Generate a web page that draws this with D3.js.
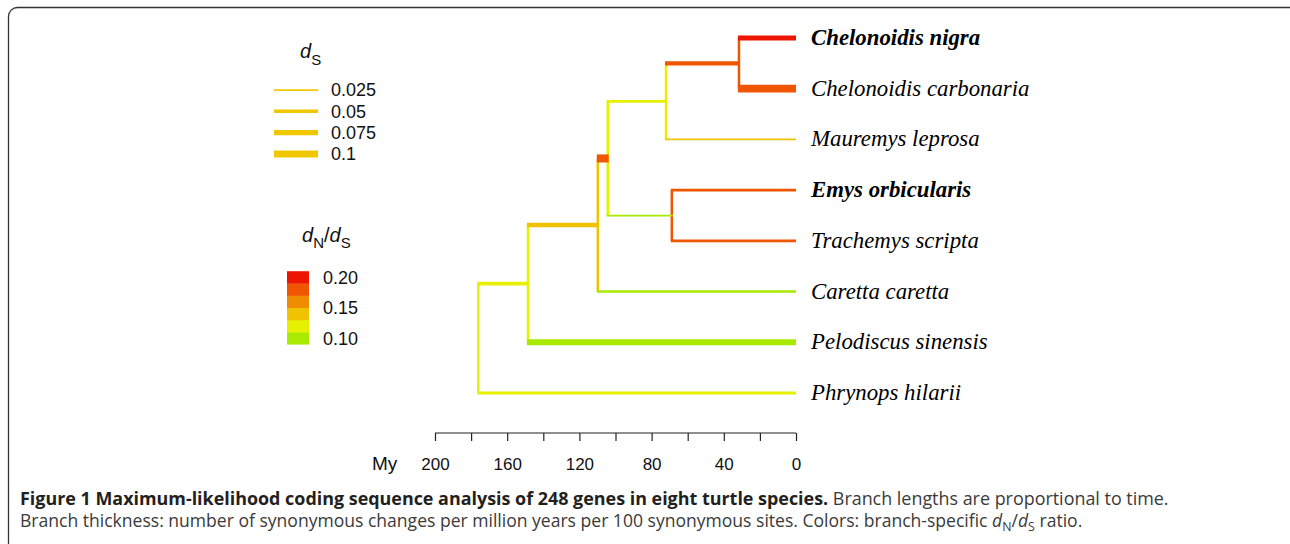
<!DOCTYPE html>
<html>
<head>
<meta charset="utf-8">
<script src="https://cdn.jsdelivr.net/npm/d3@7"></script>
<style>
  body { margin: 0; background: #fff; }
  svg { display: block; }
</style>
</head>
<body>
<svg id="chart" width="1290" height="544"></svg>
<script>
// tips, top to bottom
const tipNames = ['Chelonoidis nigra', 'Chelonoidis carbonaria', 'Mauremys leprosa', 'Emys orbicularis',
  'Trachemys scripta', 'Caretta caretta', 'Pelodiscus sinensis', 'Phrynops hilarii'];
const tipBold = ['Chelonoidis nigra', 'Emys orbicularis'];

// tree: node, parent, age (My)
const nodeNames = ['root', 'cryptodira', 'durocryptodira', 'testudinoidea', 'testuguria', 'emydidae', 'chelonoidis', ...tipNames];
const nodeParents = ['', 'root', 'cryptodira', 'durocryptodira', 'testudinoidea', 'testudinoidea', 'testuguria',
  'chelonoidis', 'chelonoidis', 'testuguria', 'emydidae', 'emydidae', 'durocryptodira', 'cryptodira', 'root'];
const nodeAges = [176, 148.5, 109.8, 104.3, 72, 68.8, 31.6, 0, 0, 0, 0, 0, 0, 0, 0];

// branch leading to each node: dS and dN/dS
const branchDs = [0, 0.055, 0.065, 0.115, 0.042, 0.025, 0.058, 0.068, 0.11, 0.025, 0.042, 0.042, 0.035, 0.085, 0.042];
const branchOmega = [0.12, 0.12, 0.14, 0.18, 0.12, 0.10, 0.18, 0.20, 0.18, 0.14, 0.18, 0.18, 0.10, 0.10, 0.12];
// colour of the vertical connector at each internal node
const vertOmega = [0.12, 0.12, 0.14, 0.12, 0.12, 0.18, 0.18];

// legends
const dsLegend = [0.025, 0.05, 0.075, 0.1];
const omegaBins = [0.10, 0.12, 0.14, 0.16, 0.18, 0.20];
const omegaLabels = [0.20, 0.15, 0.10];
const omegaColors = ['#a8ea00', '#e6f000', '#f0c200', '#f08c00', '#f05500', '#ee1500'];
const ageTicks = d3.range(0, 201, 20);

const svg = d3.select('#chart');
const sans = '"Liberation Sans", Arial, sans-serif';

const x = d3.scaleLinear().domain([200, 0]).range([435, 796]);
const yTip = d3.scalePoint().domain(tipNames).range([38, 393]);
const width = d3.scaleLinear().domain([0, 0.1]).range([0, 7]);
const color = d3.scaleThreshold().domain([0.11, 0.13, 0.15, 0.17, 0.19]).range(omegaColors);

// frame
svg.append('rect')
  .attr('x', 8.5).attr('y', 7.5)
  .attr('width', 1300).attr('height', 545)
  .attr('rx', 9)
  .attr('fill', 'none')
  .attr('stroke', '#333')
  .attr('stroke-width', 1.3);

// build hierarchy
const rows = nodeNames.map((n, i) => ({
  id: n, parent: nodeParents[i] || null, age: nodeAges[i],
  ds: branchDs[i], omega: branchOmega[i], vert: i < vertOmega.length ? vertOmega[i] : null
}));
const root = d3.stratify().id(d => d.id).parentId(d => d.parent)(rows);

root.eachAfter(n => {
  n.py = n.children ? d3.mean(n.children, c => c.py) : yTip(n.id);
});

const tree = svg.append('g').attr('class', 'tree');

// vertical connectors
tree.selectAll('.vert')
  .data(root.descendants().filter(n => n.children))
  .join('line')
  .attr('class', 'vert')
  .attr('x1', d => x(d.data.age)).attr('x2', d => x(d.data.age))
  .attr('y1', d => d.children[0].py)
  .attr('y2', d => d.children[d.children.length - 1].py)
  .attr('stroke', d => color(d.data.vert))
  .attr('stroke-width', 2.5);

// horizontal branches
tree.selectAll('.branch')
  .data(root.descendants().filter(n => n.parent))
  .join('line')
  .attr('class', 'branch')
  .attr('x1', d => x(d.parent.data.age) - 1)
  .attr('x2', d => x(d.data.age) + (d.children ? 1 : 0))
  .attr('y1', d => d.py).attr('y2', d => d.py)
  .attr('stroke', d => color(d.data.omega))
  .attr('stroke-width', d => width(d.data.ds));

// tip labels
svg.append('g')
  .selectAll('text')
  .data(tipNames)
  .join('text')
  .attr('x', 811)
  .attr('y', d => yTip(d))
  .attr('dy', '0.31em')
  .attr('font-family', '"Liberation Serif", "Times New Roman", serif')
  .attr('font-style', 'italic')
  .attr('font-weight', d => tipBold.includes(d) ? 'bold' : 'normal')
  .attr('font-size', 22.8)
  .attr('fill', '#000')
  .text(d => d);

// time axis
const axis = svg.append('g')
  .attr('transform', 'translate(0,433)')
  .call(d3.axisBottom(x)
    .tickValues(ageTicks)
    .tickSize(8)
    .tickSizeOuter(0)
    .tickPadding(17)
    .tickFormat(d => d % 40 === 0 ? d : ''));
axis.selectAll('path, line').attr('stroke', '#222').attr('stroke-width', 1.2);
axis.selectAll('text')
  .attr('font-family', sans)
  .attr('font-size', 17)
  .attr('fill', '#111');
axis.select('.domain').attr('d', `M${x(200)},0H${x(0)}`);

svg.append('text')
  .attr('x', 372).attr('y', 470)
  .attr('font-family', sans)
  .attr('font-size', 19)
  .attr('fill', '#111')
  .text('My');

// dS legend
const dsTitle = svg.append('text')
  .attr('x', 300).attr('y', 58)
  .attr('font-family', sans).attr('fill', '#111');
dsTitle.append('tspan').attr('font-style', 'italic').attr('font-size', 20).text('d');
dsTitle.append('tspan').attr('font-size', 15).attr('dy', 7).text('S');

const yDs = d3.scalePoint().domain(dsLegend).range([90, 154]);
const dsG = svg.append('g');
dsG.selectAll('line')
  .data(dsLegend)
  .join('line')
  .attr('x1', 274).attr('x2', 318)
  .attr('y1', d => yDs(d)).attr('y2', d => yDs(d))
  .attr('stroke', '#f0c800')
  .attr('stroke-width', d => width(d));
dsG.selectAll('text')
  .data(dsLegend)
  .join('text')
  .attr('x', 331).attr('y', d => yDs(d))
  .attr('dy', '0.36em')
  .attr('font-family', sans).attr('font-size', 18).attr('fill', '#111')
  .text(d => d);

// dN/dS legend
const omTitle = svg.append('text')
  .attr('x', 302).attr('y', 242)
  .attr('font-family', sans).attr('fill', '#111');
omTitle.append('tspan').attr('font-style', 'italic').attr('font-size', 20).text('d');
omTitle.append('tspan').attr('font-size', 15).attr('dy', 6).text('N');
omTitle.append('tspan').attr('font-size', 20).attr('dy', -6).text('/');
omTitle.append('tspan').attr('font-style', 'italic').attr('font-size', 20).text('d');
omTitle.append('tspan').attr('font-size', 15).attr('dy', 6).text('S');

const yOm = d3.scaleLinear().domain([0.10, 0.20]).range([338.2, 277.3]);
const boxH = yOm(0.10) - yOm(0.12);
const omG = svg.append('g');
omG.selectAll('rect')
  .data(omegaBins)
  .join('rect')
  .attr('x', 287).attr('width', 22)
  .attr('y', d => yOm(d) - boxH / 2)
  .attr('height', boxH + 0.3)
  .attr('fill', d => color(d));
omG.selectAll('text')
  .data(omegaLabels)
  .join('text')
  .attr('x', 323).attr('y', d => yOm(d))
  .attr('dy', '0.36em')
  .attr('font-family', sans).attr('font-size', 18).attr('fill', '#111')
  .text(d => d.toFixed(2));

// caption
const capFont = '"Open Sans", "Noto Sans", sans-serif';
const cap1 = svg.append('text')
  .attr('x', 20).attr('y', 505)
  .attr('font-family', capFont).attr('font-size', 17).attr('fill', '#3a3a3a');
cap1.append('tspan').attr('font-weight', 'bold').attr('fill', '#231f20')
  .text('Figure 1 Maximum-likelihood coding sequence analysis of 248 genes in eight turtle species.');
cap1.append('tspan').text(' Branch lengths are proportional to time.');

const cap2 = svg.append('text')
  .attr('x', 20).attr('y', 527)
  .attr('font-family', capFont).attr('font-size', 17).attr('fill', '#3a3a3a');
cap2.append('tspan').text('Branch thickness: number of synonymous changes per million years per 100 synonymous sites. Colors: branch-specific ');
cap2.append('tspan').attr('font-style', 'italic').text('d');
cap2.append('tspan').attr('class', 'sub').attr('dy', 4).text('N');
cap2.append('tspan').attr('dy', -4).text('/');
cap2.append('tspan').attr('font-style', 'italic').text('d');
cap2.append('tspan').attr('class', 'sub').attr('dy', 4).text('S');
cap2.append('tspan').attr('dy', -4).text(' ratio.');

// fit each caption line to the reference widths
function fit(sel, target) {
  const w = sel.node().getComputedTextLength();
  const k = target / w;
  sel.attr('font-size', 17 * k);
  sel.selectAll('.sub').attr('font-size', 12 * k);
}
cap2.selectAll('.sub').attr('font-size', 12);
fit(cap1, 1150);
fit(cap2, 1063);
</script>
</body>
</html>
